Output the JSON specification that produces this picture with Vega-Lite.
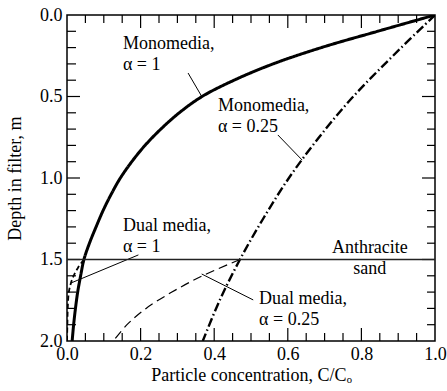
{
  "$schema": "https://vega.github.io/schema/vega-lite/v6.json",
  "width": 368,
  "height": 326,
  "autosize": {"type": "none"},
  "padding": {"left": 67, "top": 15, "right": 12, "bottom": 50},
  "config": {
    "view": {"stroke": "black", "strokeWidth": 1.5},
    "font": "Liberation Serif",
    "axis": {
      "domain": false,
      "grid": false,
      "ticks": false,
      "labelFont": "Liberation Serif",
      "labelFontSize": 18,
      "labelColor": "black",
      "titleFont": "Liberation Serif",
      "titleFontSize": 18,
      "titleFontWeight": "normal",
      "titleColor": "black",
      "labelFlush": false,
      "labelOverlap": false
    }
  },
  "datasets": {
    "curves": [
      {"series": "mono1", "c": 1.0, "depth": 0},
      {"series": "mono1", "c": 0.844, "depth": 0.1},
      {"series": "mono1", "c": 0.691, "depth": 0.2},
      {"series": "mono1", "c": 0.560, "depth": 0.3},
      {"series": "mono1", "c": 0.454, "depth": 0.4},
      {"series": "mono1", "c": 0.367, "depth": 0.5},
      {"series": "mono1", "c": 0.305, "depth": 0.6},
      {"series": "mono1", "c": 0.255, "depth": 0.7},
      {"series": "mono1", "c": 0.212, "depth": 0.8},
      {"series": "mono1", "c": 0.176, "depth": 0.9},
      {"series": "mono1", "c": 0.145, "depth": 1.0},
      {"series": "mono1", "c": 0.120, "depth": 1.1},
      {"series": "mono1", "c": 0.098, "depth": 1.2},
      {"series": "mono1", "c": 0.079, "depth": 1.3},
      {"series": "mono1", "c": 0.061, "depth": 1.4},
      {"series": "mono1", "c": 0.046, "depth": 1.5},
      {"series": "mono1", "c": 0.037, "depth": 1.6},
      {"series": "mono1", "c": 0.029, "depth": 1.7},
      {"series": "mono1", "c": 0.023, "depth": 1.8},
      {"series": "mono1", "c": 0.018, "depth": 1.9},
      {"series": "mono1", "c": 0.014, "depth": 2.0},
      {"series": "mono025", "c": 1.0, "depth": 0},
      {"series": "mono025", "c": 0.886, "depth": 0.25},
      {"series": "mono025", "c": 0.778, "depth": 0.5},
      {"series": "mono025", "c": 0.685, "depth": 0.75},
      {"series": "mono025", "c": 0.603, "depth": 1.0},
      {"series": "mono025", "c": 0.533, "depth": 1.25},
      {"series": "mono025", "c": 0.470, "depth": 1.5},
      {"series": "mono025", "c": 0.415, "depth": 1.75},
      {"series": "mono025", "c": 0.369, "depth": 2.0},
      {"series": "dual1", "c": 0.046, "depth": 1.5},
      {"series": "dual1", "c": 0.030, "depth": 1.55},
      {"series": "dual1", "c": 0.018, "depth": 1.6},
      {"series": "dual1", "c": 0.010, "depth": 1.65},
      {"series": "dual1", "c": 0.005, "depth": 1.7},
      {"series": "dual1", "c": 0.002, "depth": 1.8},
      {"series": "dual1", "c": 0.001, "depth": 1.9},
      {"series": "dual1", "c": 0.0, "depth": 2.0},
      {"series": "dual025", "c": 0.470, "depth": 1.5},
      {"series": "dual025", "c": 0.368, "depth": 1.6},
      {"series": "dual025", "c": 0.285, "depth": 1.7},
      {"series": "dual025", "c": 0.215, "depth": 1.8},
      {"series": "dual025", "c": 0.163, "depth": 1.9},
      {"series": "dual025", "c": 0.126, "depth": 2.0}
    ],
    "leaders": [
      {"c1": 0.329, "d1": 0.356, "c2": 0.367, "d2": 0.503},
      {"c1": 0.573, "d1": 0.736, "c2": 0.639, "d2": 0.890},
      {"c1": 0.194, "d1": 1.472, "c2": 0.010, "d2": 1.645},
      {"c1": 0.366, "d1": 1.589, "c2": 0.506, "d2": 1.748}
    ],
    "labels": [
      {"text": "Monomedia,", "c": 0.152, "depth": 0.178, "al": "left"},
      {"text": "α = 1", "c": 0.152, "depth": 0.307, "al": "left"},
      {"text": "Monomedia,", "c": 0.41, "depth": 0.558, "al": "left"},
      {"text": "α = 0.25", "c": 0.41, "depth": 0.687, "al": "left"},
      {"text": "Dual media,", "c": 0.152, "depth": 1.294, "al": "left"},
      {"text": "α = 1", "c": 0.152, "depth": 1.423, "al": "left"},
      {"text": "Dual media,", "c": 0.522, "depth": 1.742, "al": "left"},
      {"text": "α = 0.25", "c": 0.522, "depth": 1.871, "al": "left"},
      {"text": "Anthracite", "c": 0.823, "depth": 1.43, "al": "center"},
      {"text": "sand", "c": 0.823, "depth": 1.558, "al": "center"}
    ],
    "layer_line": [
      {"c1": 0, "c2": 1, "depth": 1.5}
    ],
    "xticks": [
      {"v": 0.05, "kind": "minor"}, {"v": 0.1, "kind": "minor"}, {"v": 0.15, "kind": "minor"}, {"v": 0.2, "kind": "major"},
      {"v": 0.25, "kind": "minor"}, {"v": 0.3, "kind": "minor"}, {"v": 0.35, "kind": "minor"}, {"v": 0.4, "kind": "major"},
      {"v": 0.45, "kind": "minor"}, {"v": 0.5, "kind": "minor"}, {"v": 0.55, "kind": "minor"}, {"v": 0.6, "kind": "major"},
      {"v": 0.65, "kind": "minor"}, {"v": 0.7, "kind": "minor"}, {"v": 0.75, "kind": "minor"}, {"v": 0.8, "kind": "major"},
      {"v": 0.85, "kind": "minor"}, {"v": 0.9, "kind": "minor"}, {"v": 0.95, "kind": "minor"}
    ],
    "yticks": [
      {"v": 0.1, "kind": "minor"}, {"v": 0.2, "kind": "minor"}, {"v": 0.3, "kind": "minor"}, {"v": 0.4, "kind": "minor"}, {"v": 0.5, "kind": "major"},
      {"v": 0.6, "kind": "minor"}, {"v": 0.7, "kind": "minor"}, {"v": 0.8, "kind": "minor"}, {"v": 0.9, "kind": "minor"}, {"v": 1.0, "kind": "major"},
      {"v": 1.1, "kind": "minor"}, {"v": 1.2, "kind": "minor"}, {"v": 1.3, "kind": "minor"}, {"v": 1.4, "kind": "minor"}, {"v": 1.5, "kind": "major"},
      {"v": 1.6, "kind": "minor"}, {"v": 1.7, "kind": "minor"}, {"v": 1.8, "kind": "minor"}, {"v": 1.9, "kind": "minor"}
    ]
  },
  "layer": [
    {
      "data": {"name": "curves"},
      "mark": {"type": "line", "color": "black", "strokeCap": "butt", "clip": true, "interpolate": "catmull-rom"},
      "encoding": {
        "x": {
          "field": "c", "type": "quantitative",
          "scale": {"domain": [0, 1], "nice": false, "zero": false},
          "axis": {
            "orient": "bottom",
            "values": [0, 0.2, 0.4, 0.6, 0.8, 1.0],
            "format": ".1f",
            "labelPadding": 4,
            "titlePadding": 3,
            "title": "Particle concentration, C/Cₒ"
          }
        },
        "y": {
          "field": "depth", "type": "quantitative",
          "scale": {"domain": [0, 2], "nice": false, "zero": false, "reverse": true},
          "axis": {
            "orient": "left",
            "values": [0, 0.5, 1.0, 1.5, 2.0],
            "format": ".1f",
            "labelPadding": 5,
            "titlePadding": 15,
            "title": "Depth in filter, m"
          }
        },
        "detail": {"field": "series"},
        "order": {"field": "depth", "type": "quantitative"},
        "strokeWidth": {
          "field": "series", "type": "nominal",
          "scale": {"domain": ["mono1", "mono025", "dual1", "dual025"], "range": [3, 1.2, 1.2, 1.2]},
          "legend": null
        },
        "strokeDash": {
          "field": "series", "type": "nominal",
          "scale": {"domain": ["mono1", "mono025", "dual1", "dual025"], "range": [[1, 0], [9, 3, 1.5, 3], [5, 3], [9, 5]]},
          "legend": null
        }
      }
    },
    {
      "data": {"name": "xticks"},
      "transform": [
        {"calculate": "2", "as": "e0"},
        {"calculate": "datum.kind == 'major' ? 1.92 : 1.951", "as": "e1"}
      ],
      "mark": {"type": "rule", "color": "black", "strokeWidth": 1.2},
      "encoding": {
        "x": {"field": "v", "type": "quantitative", "axis": null},
        "x2": {"field": "v"},
        "y": {"field": "e0", "type": "quantitative", "axis": null},
        "y2": {"field": "e1"}
      }
    },
    {
      "data": {"name": "xticks"},
      "transform": [
        {"calculate": "0", "as": "e0"},
        {"calculate": "datum.kind == 'major' ? 0.08 : 0.049", "as": "e1"}
      ],
      "mark": {"type": "rule", "color": "black", "strokeWidth": 1.2},
      "encoding": {
        "x": {"field": "v", "type": "quantitative", "axis": null},
        "x2": {"field": "v"},
        "y": {"field": "e0", "type": "quantitative", "axis": null},
        "y2": {"field": "e1"}
      }
    },
    {
      "data": {"name": "yticks"},
      "transform": [
        {"calculate": "0", "as": "e0"},
        {"calculate": "datum.kind == 'major' ? 0.0353 : 0.0245", "as": "e1"}
      ],
      "mark": {"type": "rule", "color": "black", "strokeWidth": 1.2},
      "encoding": {
        "y": {"field": "v", "type": "quantitative", "axis": null},
        "y2": {"field": "v"},
        "x": {"field": "e0", "type": "quantitative", "axis": null},
        "x2": {"field": "e1"}
      }
    },
    {
      "data": {"name": "yticks"},
      "transform": [
        {"calculate": "1", "as": "e0"},
        {"calculate": "datum.kind == 'major' ? 0.9647 : 0.9783", "as": "e1"}
      ],
      "mark": {"type": "rule", "color": "black", "strokeWidth": 1.2},
      "encoding": {
        "y": {"field": "v", "type": "quantitative", "axis": null},
        "y2": {"field": "v"},
        "x": {"field": "e0", "type": "quantitative", "axis": null},
        "x2": {"field": "e1"}
      }
    },
    {
      "data": {"name": "leaders"},
      "mark": {"type": "rule", "color": "black", "strokeWidth": 1},
      "encoding": {
        "x": {"field": "c1", "type": "quantitative", "axis": null},
        "y": {"field": "d1", "type": "quantitative", "axis": null},
        "x2": {"field": "c2"},
        "y2": {"field": "d2"}
      }
    },
    {
      "data": {"name": "layer_line"},
      "mark": {"type": "rule", "color": "#222", "strokeWidth": 1.3},
      "encoding": {
        "x": {"field": "c1", "type": "quantitative", "axis": null},
        "x2": {"field": "c2"},
        "y": {"field": "depth", "type": "quantitative", "axis": null}
      }
    },
    {
      "data": {"name": "labels"},
      "transform": [{"filter": "datum.al == 'left'"}],
      "mark": {"type": "text", "font": "Liberation Serif", "fontSize": 18, "color": "black", "baseline": "middle", "align": "left"},
      "encoding": {
        "x": {"field": "c", "type": "quantitative", "axis": null},
        "y": {"field": "depth", "type": "quantitative", "axis": null},
        "text": {"field": "text"}
      }
    },
    {
      "data": {"name": "labels"},
      "transform": [{"filter": "datum.al == 'center'"}],
      "mark": {"type": "text", "font": "Liberation Serif", "fontSize": 18, "color": "black", "baseline": "middle", "align": "center"},
      "encoding": {
        "x": {"field": "c", "type": "quantitative", "axis": null},
        "y": {"field": "depth", "type": "quantitative", "axis": null},
        "text": {"field": "text"}
      }
    }
  ],
  "resolve": {"axis": {"x": "independent", "y": "independent"}}
}
